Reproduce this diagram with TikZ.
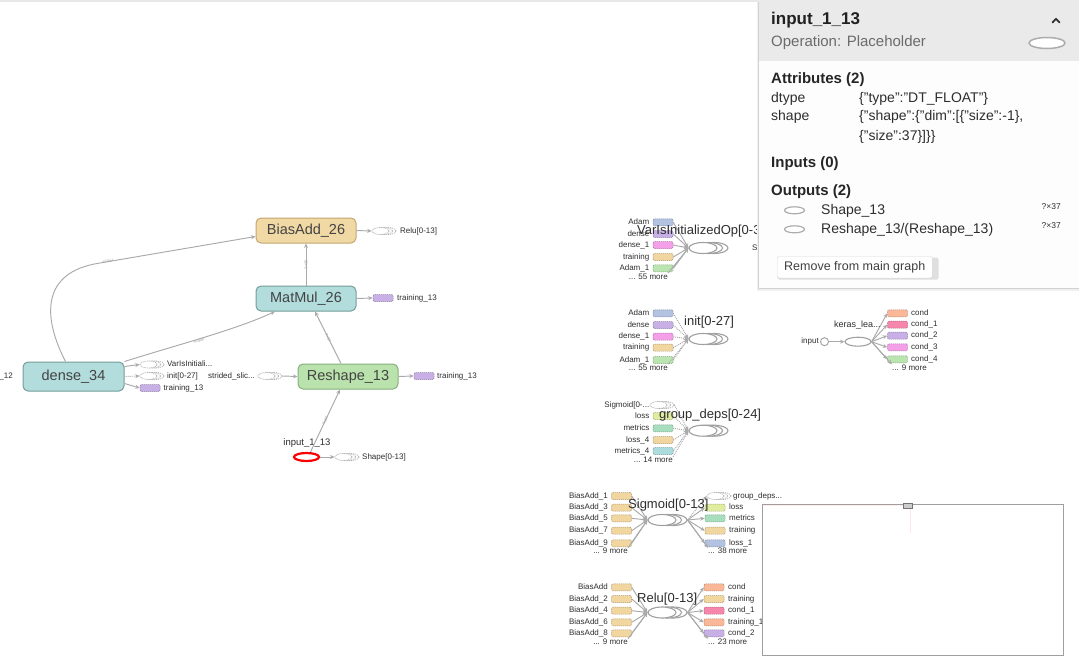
\documentclass[tikz,border=0pt]{standalone}
\usepackage{fontspec}
\setmainfont{Liberation Sans}
\usetikzlibrary{shapes.geometric,arrows.meta}
\definecolor{txt}{HTML}{2E2E2E}
\definecolor{edgec}{RGB}{170,170,170}
\definecolor{sgray}{RGB}{160,160,160}
\definecolor{tealf}{RGB}{178,221,220}
\definecolor{tealb}{RGB}{118,158,153}
\definecolor{tanf}{RGB}{240,217,164}
\definecolor{tanb}{RGB}{196,166,112}
\definecolor{greenf}{RGB}{186,226,172}
\definecolor{greenb}{RGB}{135,176,125}
\definecolor{purp}{RGB}{200,176,230}
\definecolor{bgray}{RGB}{180,194,226}
\definecolor{pink}{RGB}{243,160,232}
\definecolor{tanm}{RGB}{241,214,160}
\definecolor{grm}{RGB}{187,229,176}
\definecolor{yg}{RGB}{224,236,160}
\definecolor{mint}{RGB}{168,222,190}
\definecolor{tealm}{RGB}{172,220,222}
\definecolor{salmon}{RGB}{250,184,152}
\definecolor{hpink}{RGB}{246,135,172}
\definecolor{hdr}{RGB}{234,234,234}
\newcommand\fsz[1]{\fontsize{#1}{#1}\selectfont}
\tikzset{
 opbox/.style 2 args={draw=#2, fill=#1, rounded corners=5pt, line width=1pt,
   minimum width=100pt, minimum height=25pt, inner sep=0pt, font=\fsz{14.5}, text=txt!90!white},
 mini/.style={draw=#1!72!black, fill=#1, dash pattern=on 1.2pt off 0.8pt, rounded corners=1.2pt,
   minimum width=20pt, minimum height=7pt, inner sep=0pt, line width=0.5pt},
 dell/.style={ellipse, draw=gray!60, dash pattern=on 1.2pt off 0.9pt, fill=white,
   minimum width=17pt, minimum height=7pt, inner sep=0pt, line width=0.7pt},
 sell/.style={ellipse, draw=sgray, fill=white, minimum width=28pt, minimum height=11pt,
   inner sep=0pt, line width=1.1pt},
 lab/.style={font=\fsz{8}, inner sep=0pt, text height=5.8pt, text depth=1.6pt, text=txt},
 ttl/.style={font=\fsz{13}, inner sep=0pt, text height=9.5pt, text depth=3pt, text=txt},
 conn/.style={draw=edgec, line width=0.95pt, -{Stealth[length=4.5pt,width=4pt]}},
 elab/.style={font=\fsz{4}, text=gray!75, inner sep=0.3pt},
 ptxt/.style={anchor=west, font=\fsz{14}, inner sep=0pt, text=txt, text height=10pt, text depth=3pt},
 phd/.style={anchor=west, font=\fsz{15}\bfseries, inner sep=0pt, text=black!85, text height=10.5pt, text depth=3pt}
}
\newcommand\sstk[3]{%
 \node[sell] (#1r) at ({#2+11},#3) {};
 \node[sell] (#1m) at ({#2+5.5},#3) {};
 \node[sell] (#1) at (#2,#3) {};}
\newcommand\dstk[3]{%
 \node[dell] (#1r) at ({#2+7},#3) {};
 \node[dell] (#1m) at ({#2+3.5},#3) {};
 \node[dell] (#1) at (#2,#3) {};}
\begin{document}
\begin{tikzpicture}[x=1pt,y=-1pt]
\useasboundingbox (0,0) rectangle (1079,664);
\fill[white] (0,0) rectangle (1079,664);
\fill[gray!18] (0,0) rectangle (758,1.5);

% ---------------- main graph ----------------
\node[opbox={tanf}{tanb}] (bias) at (306,230.5) {BiasAdd\_26};
\node[opbox={tealf}{tealb}] (matmul) at (306,298.5) {MatMul\_26};
\node[opbox={tealf}{tealb}, minimum width=101pt, minimum height=29pt] (dense) at (73.5,376.5) {dense\_34};
\node[opbox={greenf}{greenb}] (reshape) at (348,376.5) {Reshape\_13};
\node[ellipse, draw=red, line width=2.2pt, fill=white, minimum width=25pt, minimum height=8pt, inner sep=0pt] (inp) at (306.5,457) {};
\node[lab, font=\fsz{9.5}, text height=7pt, text depth=2.2pt] (inpl) at (307,443.5) {input\_1\_13};
\node[lab, anchor=east] (l12) at (13,376) {\_12};

\draw[conn] (matmul) -- (bias) node[midway, elab, sloped] {?×30};
\draw[conn] ([xshift=-7pt]reshape.north) -- ([xshift=9pt]matmul.south) node[midway, elab, sloped] {?×37};
\draw[conn] ([xshift=4pt]inp.north) -- ([xshift=-8pt]reshape.south) node[midway, elab, sloped] {?×37};
\draw[conn] ([xshift=-8pt]dense.north) .. controls (43,318) and (40,272) .. (100,263) -- ([yshift=-6pt]bias.west);
\node[elab, rotate=9.5] (sc1) at (108,261) {scalar};
\draw[conn] (dense.north east) .. controls (180,344) and (235,330) .. ([xshift=-31pt]matmul.south);
\node[elab, rotate=15] (sc2) at (199,340.5) {scalar};

% outputs of the main nodes
\dstk{relu0}{380.5}{231}
\node[lab, anchor=west] (relu0l) at (400,231) {Relu[0-13]};
\draw[conn] (bias.east) -- (relu0.west);
\node[mini=purp] (tr1) at (383,298) {};
\node[lab, anchor=west] (tr1l) at (397,298) {training\_13};
\draw[conn] (matmul.east) -- (tr1.west);
\dstk{vi0}{148.5}{364.5}
\node[lab, anchor=west] (vi0l) at (167,364.5) {VarIsInitiali...};
\draw[conn] ([yshift=10pt]dense.east) -- (vi0.west);
\dstk{in0}{148.5}{376}
\node[lab, anchor=west] (in0l) at (167,376) {init[0-27]};
\draw[conn, densely dotted] (dense.east) -- (in0.west);
\node[mini=purp] (tr2) at (150,388) {};
\node[lab, anchor=west] (tr2l) at (163.5,388) {training\_13};
\draw[conn] ([yshift=-7pt]dense.east) -- (tr2.west);
\node[lab, anchor=east] (ssl) at (255,376) {strided\_slic...};
\dstk{ss0}{266.5}{376}
\draw[conn] (ss0r.east) -- (reshape.west);
\node[mini=purp] (tr3) at (424,376) {};
\node[lab, anchor=west] (tr3l) at (437,376) {training\_13};
\draw[conn] (reshape.east) -- (tr3.west);
\dstk{sh0}{343.5}{457}
\node[lab, anchor=west] (sh0l) at (362,457) {Shape[0-13]};
\draw[conn] (inp.east) -- (sh0.west);

% ---------------- VarIsInitializedOp ----------------
\sstk{vs}{703}{248}
\foreach \tx/\cc/\y [count=\i] in {Adam/bgray/222.3, dense/purp/234, dense\_1/pink/245, training/tanm/257, Adam\_1/grm/268.3}{
  \node[lab, anchor=east] (val\i) at (649.5,\y) {\tx};
  \node[mini=\cc] (va\i) at (663,\y) {};
  \draw[conn] (va\i.east) -- (vs.west);}
\node[lab, anchor=east] (vam) at (668,277) {... 55 more};
\draw[conn] (vam.north east) -- (vs.west);
\node[ttl, anchor=west] (vt) at (637,231) {VarIsInitializedOp[0-313]};

% ---------------- init ----------------
\sstk{is}{703}{339}
\foreach \tx/\cc/\y [count=\i] in {Adam/bgray/313.3, dense/purp/325, dense\_1/pink/336.7, training/tanm/347.7, Adam\_1/grm/360}{
  \node[lab, anchor=east] (ial\i) at (649.5,\y) {\tx};
  \node[mini=\cc] (ia\i) at (663,\y) {};
  \draw[conn, densely dotted] (ia\i.east) -- (is.west);}
\node[lab, anchor=east] (iam) at (668,368) {... 55 more};
\draw[conn, densely dotted] (iam.north east) -- (is.west);
\node[ttl, anchor=west] (it) at (684,322.7) {init[0-27]};

% ---------------- group_deps ----------------
\sstk{gs}{703}{430.7}
\node[lab, anchor=east] (gdl1) at (649.5,405) {Sigmoid[0-...};
\dstk{gd1}{658.5}{405}
\draw[conn, densely dotted] (gd1r.east) -- (gs.west);
\foreach \tx/\cc/\y [count=\i] in {loss/yg/416, metrics/mint/428.3, loss\_4/tanm/440, metrics\_4/tealm/451}{
  \node[lab, anchor=east] (gal\i) at (649.5,\y) {\tx};
  \node[mini=\cc] (ga\i) at (663,\y) {};
  \draw[conn, densely dotted] (ga\i.east) -- (gs.west);}
\node[lab, anchor=east] (gam) at (673,460.7) {... 14 more};
\draw[conn, densely dotted] (gam.north east) -- (gs.west);
\node[ttl, anchor=west] (gt) at (659,415) {group\_deps[0-24]};

% ---------------- Sigmoid ----------------
\sstk{sg}{662}{520}
\foreach \tx/\y [count=\i] in {BiasAdd\_1/496, BiasAdd\_3/507.7, BiasAdd\_5/518.3, BiasAdd\_7/530.7, BiasAdd\_9/543.3}{
  \node[lab, anchor=east] (sil\i) at (608,\y) {\tx};
  \node[mini=tanm] (si\i) at (621.5,\y) {};
  \draw[conn] (si\i.east) -- (sg.west);}
\node[lab, anchor=east] (sim) at (628,551.7) {... 9 more};
\draw[conn] (sim.north east) -- (sg.west);
\dstk{so0}{715.5}{496}
\node[lab, anchor=west] (so0l) at (733,496) {group\_deps...};
\draw[conn, densely dotted] (sgr.east) -- (so0.west);
\foreach \tx/\cc/\y [count=\i] in {loss/yg/507.7, metrics/mint/518.3, training/tanm/530.7, loss\_1/bgray/543.3}{
  \node[mini=\cc] (so\i) at (715,\y) {};
  \node[lab, anchor=west] (sol\i) at (729,\y) {\tx};
  \draw[conn] (sgr.east) -- (so\i.west);}
\node[lab, anchor=west] (som) at (708,551.7) {... 38 more};
\draw[conn] (sgr.east) -- (som.north west);
\node[ttl, anchor=west] (sgt) at (628,505) {Sigmoid[0-13]};

% ---------------- Relu ----------------
\sstk{rl}{662}{612.5}
\foreach \tx/\y [count=\i] in {BiasAdd/587.3, BiasAdd\_2/599, BiasAdd\_4/610.7, BiasAdd\_6/622.3, BiasAdd\_8/633.3}{
  \node[lab, anchor=east] (ril\i) at (608,\y) {\tx};
  \node[mini=tanm] (ri\i) at (621.5,\y) {};
  \draw[conn] (ri\i.east) -- (rl.west);}
\node[lab, anchor=east] (rim) at (628,642.7) {... 9 more};
\draw[conn] (rim.north east) -- (rl.west);
\foreach \tx/\cc/\y [count=\i] in {cond/salmon/587.3, training/tanm/599, cond\_1/hpink/610.7, training\_1/salmon/622.3, cond\_2/purp/633.3}{
  \node[mini=\cc] (ro\i) at (714,\y) {};
  \node[lab, anchor=west] (rol\i) at (728,\y) {\tx};
  \draw[conn] (rlr.east) -- (ro\i.west);}
\node[lab, anchor=west] (rom) at (708,642.7) {... 23 more};
\draw[conn] (rlr.east) -- (rom.north west);
\node[ttl, anchor=west] (rlt) at (637,599) {Relu[0-13]};

% ---------------- keras_lea... ----------------
\node[circle, draw=sgray, line width=0.9pt, fill=white, minimum size=8pt, inner sep=0pt] (kin) at (824.5,341.7) {};
\node[lab, anchor=east] (kinl) at (819,341.7) {input};
\node[ellipse, draw=sgray, line width=1.1pt, fill=white, minimum width=26pt, minimum height=9pt, inner sep=0pt] (kel) at (858,341.7) {};
\draw[conn] (kin.east) -- (kel.west);
\foreach \tx/\cc/\y [count=\i] in {cond/salmon/313.3, cond\_1/hpink/324.7, cond\_2/purp/335.7, cond\_3/pink/347.3, cond\_4/grm/359.3}{
  \node[mini=\cc] (ko\i) at (897.5,\y) {};
  \node[lab, anchor=west] (kol\i) at (911,\y) {\tx};
  \draw[conn] (kel.east) -- (ko\i.west);}
\node[lab, anchor=west] (kom) at (892,368.3) {... 9 more};
\draw[conn] (kel.east) -- (kom.north west);
\node[lab, anchor=west, font=\fsz{9}] (kt) at (834,325.5) {keras\_lea...};

% ---------------- group seen through the panel ----------------
\node[lab, anchor=west] (ghl) at (752,248) {Shape[0-13]};
\dstk{gh0}{805.5}{248}
\sstk{ghs}{852}{248}
\draw[conn] (gh0r.east) -- (ghs.west);
\foreach \tx/\y [count=\i] in {Reshape/221, Reshape\_1/233, Reshape\_2/245, Reshape\_3/257, Reshape\_4/268}{
  \node[mini=grm] (gho\i) at (905.5,\y) {};
  \node[lab, anchor=west] (ghol\i) at (919,\y) {\tx};
  \draw[conn] (ghsr.east) -- (gho\i.west);}
\node[lab, anchor=west] (ghom) at (897,277) {... 9 more};
\draw[conn] (ghsr.east) -- (ghom.north west);
\node[ttl, anchor=west] (ght) at (805,230) {strided\_slic...};

% ---------------- info panel ----------------
\fill[gray!12] (756.5,2) rectangle (1079,290.5);
\fill[white, fill opacity=0.88] (758,0) rectangle (1079,288.5);
\fill[hdr] (758,0) rectangle (1079,61);
\draw[gray!35, line width=0.7pt] (758,1.5) -- (758,288.5) -- (1079,288.5);
\node[anchor=west, font=\fsz{17}\bfseries, inner sep=0pt, text=black!87] (ptitle) at (771,20.5) {input\_1\_13};
\node[anchor=west, font=\fsz{15}, inner sep=0pt, text=black!58] (pop) at (771,43) {Operation: Placeholder};
\draw[black!80, line width=1.8pt, line cap=round, line join=round] (1052.5,22.5) -- (1056,18.8) -- (1059.5,22.5);
\node[ellipse, draw=gray!65, line width=1.5pt, fill=white, minimum width=36pt, minimum height=11pt, inner sep=0pt] (pel) at (1047,43) {};
\node[phd] (attr) at (771,80) {Attributes (2)};
\node[ptxt] (k1) at (771,99) {dtype};
\node[ptxt] (v1) at (859,99) {\{"type":"DT\_FLOAT"\}};
\node[ptxt] (k2) at (771,117.3) {shape};
\node[ptxt] (v2) at (859,117.3) {\{"shape":\{"dim":[\{"size":-1\},};
\node[ptxt] (v3) at (859,136.7) {\{"size":37\}]\}\}};
\node[phd] (inh) at (771,164) {Inputs (0)};
\node[phd] (outh) at (771,191.7) {Outputs (2)};
\node[ellipse, draw=gray!65, line width=1.2pt, fill=white, minimum width=20pt, minimum height=7pt, inner sep=0pt] (po1) at (794.5,210.3) {};
\node[ptxt] (po1l) at (821,210.7) {Shape\_13};
\node[anchor=east, font=\fsz{8.5}, inner sep=0pt, text=txt] (po1s) at (1061,206.7) {?×37};
\node[ellipse, draw=gray!65, line width=1.2pt, fill=white, minimum width=20pt, minimum height=7pt, inner sep=0pt] (po2) at (794.5,229.3) {};
\node[ptxt] (po2l) at (821,229.7) {Reshape\_13/(Reshape\_13)};
\node[anchor=east, font=\fsz{8.5}, inner sep=0pt, text=txt] (po2s) at (1061,225.7) {?×37};
\fill[gray!25, rounded corners=2pt] (777.5,257.5) rectangle (938.5,279.5);
\node[draw=gray!30, fill=white, rounded corners=2pt, anchor=west, minimum height=21.5pt, inner xsep=7pt, inner ysep=0pt,
      font=\fsz{12.5}, text=black!75, text height=9pt, text depth=2.5pt] (tip) at (777,267.2) {Remove from main graph};

% ---------------- minimap ----------------
\draw[gray!75, line width=1pt, fill=white] (762.5,504.5) rectangle (1063,655);
\draw[red!12, line width=0.6pt, densely dotted] (763.5,505.5) -- (903,505.5);
\draw[red!10, line width=0.8pt] (910,508.5) -- (910,533);
\draw[gray!90!black, fill=gray!40, line width=0.8pt] (903.5,503.5) rectangle (912.5,508.5);
\end{tikzpicture}
\end{document}
